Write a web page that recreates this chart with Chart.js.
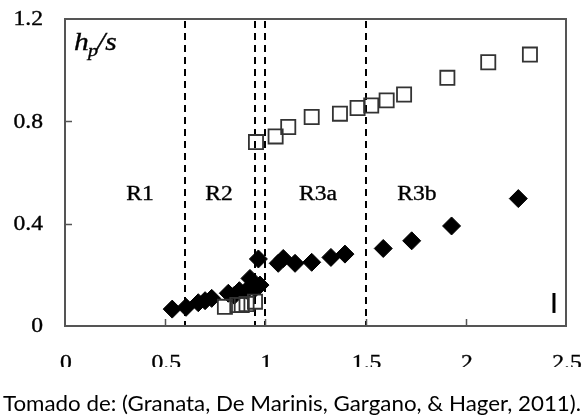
<!DOCTYPE html>
<html>
<head>
<meta charset="utf-8">
<script src="https://cdn.jsdelivr.net/npm/chart.js@4/dist/chart.umd.min.js"></script>
<style>
  html, body { margin: 0; padding: 0; background: #fff; }
  #chart { display: block; }
</style>
</head>
<body>
<canvas id="chart" width="584" height="415"></canvas>
<script>
// h_p/s against x, two series: upper (open squares) and lower (filled diamonds)
const openX = [0.798, 0.860, 0.882, 0.906, 0.948, 0.953, 1.051, 1.114, 1.231, 1.372, 1.460, 1.528, 1.605, 1.692, 1.908, 2.112, 2.320];
const openY = [0.075, 0.082, 0.082, 0.086, 0.095, 0.719, 0.741, 0.778, 0.817, 0.830, 0.852, 0.862, 0.882, 0.905, 0.970, 1.031, 1.061];

const filledX = [0.535, 0.604, 0.665, 0.699, 0.732, 0.815, 0.845, 0.870, 0.906, 0.923, 0.948, 0.965, 0.973, 1.064, 1.089, 1.148, 1.231, 1.327, 1.397, 1.588, 1.730, 1.929, 2.262];
const filledY = [0.066, 0.073, 0.091, 0.099, 0.108, 0.128, 0.120, 0.138, 0.140, 0.186, 0.147, 0.262, 0.160, 0.245, 0.264, 0.245, 0.249, 0.268, 0.281, 0.303, 0.333, 0.391, 0.498];

// regime boundaries and names
const boundaries = [0.6, 0.95, 1.0, 1.5];
const regions = ['R1', 'R2', 'R3a', 'R3b'];
const regionX = [0.374, 0.768, 1.262, 1.756];
const regionY = 0.52;

// error bar in the lower right corner
const barX = 2.44;
const barY = [0.051, 0.129];

const xTicks = [0, 0.5, 1, 1.5, 2, 2.5];
const xTickLabels = ['0', '0.5', '1', '1.5', '2', '2.5'];
const yTicks = [0, 0.4, 0.8, 1.2];
const yTickLabels = ['0', '0.4', '0.8', '1.2'];

const caption = 'Tomado de: (Granata, De Marinis, Gargano, & Hager, 2011).';

const SERIF = '"Liberation Serif", "Times New Roman", serif';
const STRETCH = 1.18;

const toPoints = (xs, ys) => xs.map((x, i) => ({ x, y: ys[i] }));

// serif text a bit wider than the font draws it, with a hair of stroke for weight
const stretchedText = function (ctx, text, x, y, align) {
    ctx.save();
    ctx.translate(x, y);
    ctx.scale(STRETCH, 1);
    ctx.textAlign = align;
    ctx.fillText(text, 0, 0);
    ctx.lineWidth = 0.35;
    ctx.strokeStyle = ctx.fillStyle;
    ctx.strokeText(text, 0, 0);
    ctx.restore();
};

const frame = {
    id: 'frame',
    beforeDatasetsDraw(chart) {
        const { ctx, chartArea: a, scales: { x } } = chart;
        ctx.save();
        ctx.strokeStyle = '#000';
        ctx.lineWidth = 2;
        ctx.setLineDash([7, 5]);
        for (const b of boundaries) {
            const px = Math.round(x.getPixelForValue(b));
            ctx.beginPath();
            ctx.moveTo(px, a.top + 2);
            ctx.lineTo(px, a.bottom);
            ctx.stroke();
        }
        ctx.restore();
    },
    afterDraw(chart) {
        const { ctx, chartArea: a, scales: { x, y } } = chart;
        ctx.save();

        // box
        ctx.strokeStyle = '#555';
        ctx.lineWidth = 2;
        ctx.strokeRect(a.left, a.top, a.right - a.left, a.bottom - a.top);

        // inward tick marks
        ctx.lineWidth = 1.5;
        ctx.beginPath();
        for (const t of xTicks.slice(1, -1)) {
            const px = Math.round(x.getPixelForValue(t)) + 0.5;
            ctx.moveTo(px, a.bottom);
            ctx.lineTo(px, a.bottom - 7);
        }
        for (const t of yTicks.slice(1, -1)) {
            const py = Math.round(y.getPixelForValue(t)) + 0.5;
            ctx.moveTo(a.left, py);
            ctx.lineTo(a.left + 7, py);
        }
        ctx.stroke();

        ctx.fillStyle = '#000';
        ctx.font = '20px ' + SERIF;

        // y tick labels
        ctx.textBaseline = 'middle';
        yTicks.forEach((t, i) => {
            stretchedText(ctx, yTickLabels[i], 43, y.getPixelForValue(t) + 1, 'right');
        });

        // x tick labels, cut off at the bottom
        ctx.save();
        ctx.beginPath();
        ctx.rect(0, a.bottom + 1, chart.width, 366 - a.bottom);
        ctx.clip();
        ctx.textBaseline = 'alphabetic';
        xTicks.forEach((t, i) => {
            stretchedText(ctx, xTickLabels[i], x.getPixelForValue(t) + 1, 369, 'center');
        });
        ctx.restore();

        // regime names
        ctx.textBaseline = 'alphabetic';
        regions.forEach((r, i) => {
            stretchedText(ctx, r, x.getPixelForValue(regionX[i]), y.getPixelForValue(regionY) + 7, 'center');
        });

        // axis title h_p/s
        ctx.font = 'italic 25px ' + SERIF;
        stretchedText(ctx, 'h', 74, 50, 'left');
        ctx.font = 'italic 17px ' + SERIF;
        stretchedText(ctx, 'p', 88, 56, 'left');
        ctx.font = 'italic 25px ' + SERIF;
        stretchedText(ctx, '/s', 97, 50, 'left');

        // error bar
        ctx.strokeStyle = '#000';
        ctx.lineWidth = 3;
        ctx.beginPath();
        ctx.moveTo(x.getPixelForValue(barX), y.getPixelForValue(barY[0]));
        ctx.lineTo(x.getPixelForValue(barX), y.getPixelForValue(barY[1]));
        ctx.stroke();

        // source line
        ctx.font = '22px Lato, "Open Sans", sans-serif';
        ctx.fillStyle = '#000';
        const w = ctx.measureText(caption).width;
        ctx.translate(3, 411);
        ctx.scale(578 / w, 1);
        ctx.fillText(caption, 0, 0);

        ctx.restore();
    }
};

new Chart(document.getElementById('chart'), {
    type: 'scatter',
    data: {
        datasets: [
            {
                label: 'upper',
                data: toPoints(openX, openY),
                pointStyle: 'rect',
                pointRadius: 10,
                backgroundColor: 'rgba(0,0,0,0)',
                borderColor: '#333',
                borderWidth: 1.8
            },
            {
                label: 'lower',
                data: toPoints(filledX, filledY),
                pointStyle: 'rectRot',
                pointRadius: 9,
                backgroundColor: '#000',
                borderColor: '#000',
                borderWidth: 1
            }
        ]
    },
    options: {
        responsive: false,
        animation: false,
        devicePixelRatio: 1,
        layout: { padding: { top: 19, right: 18, left: 0, bottom: 0 } },
        plugins: { legend: { display: false }, tooltip: { enabled: false } },
        scales: {
            x: {
                type: 'linear', min: 0, max: 2.5,
                grid: { display: false }, border: { display: false },
                ticks: { display: false },
                afterBuildTicks: s => { s.ticks = xTicks.map(v => ({ value: v })); },
                afterFit: s => { s.height = 89; }
            },
            y: {
                type: 'linear', min: 0, max: 1.2,
                grid: { display: false }, border: { display: false },
                ticks: { display: false },
                afterBuildTicks: s => { s.ticks = yTicks.map(v => ({ value: v })); },
                afterFit: s => { s.width = 65; }
            }
        }
    },
    plugins: [frame]
});
</script>
</body>
</html>
